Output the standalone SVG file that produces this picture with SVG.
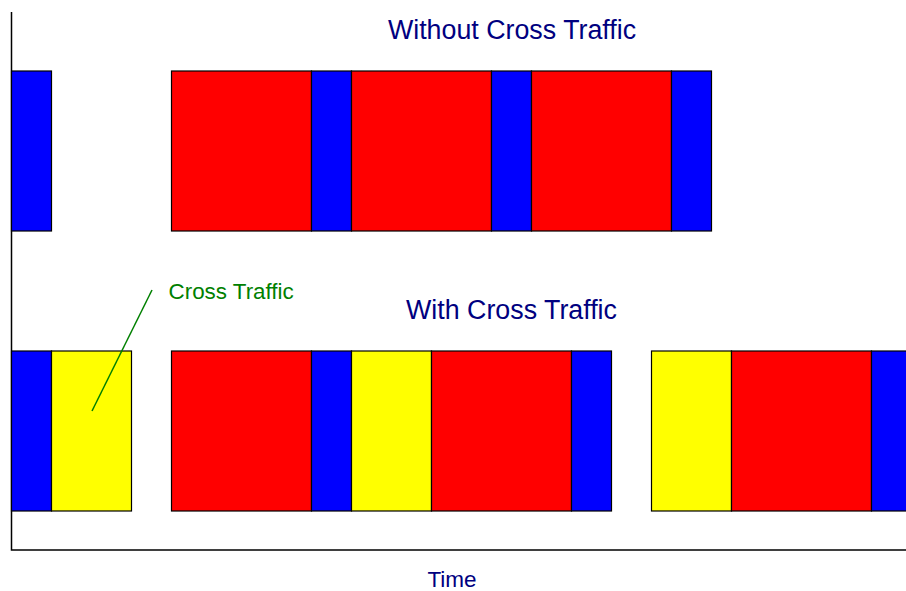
<svg xmlns="http://www.w3.org/2000/svg" width="906" height="591" viewBox="0 0 906 591">
<style>
rect{stroke:#000;stroke-width:1.2}
.b{fill:#0000ff}.r{fill:#ff0000}.y{fill:#ffff00}
.t{font-family:"Liberation Sans",Arial,sans-serif;fill:#000080}
</style>
<rect width="906" height="591" fill="#fff" style="stroke:none"/>
<g id="axes" fill="none" stroke="#000" stroke-width="1.5">
<polyline points="11.5,12 11.5,550 906,550"/>
</g>
<g id="row-without">
<rect class="b" x="11.5" y="71" width="40" height="160"/>
<rect class="r" x="171.5" y="71" width="140" height="160"/>
<rect class="b" x="311.5" y="71" width="40" height="160"/>
<rect class="r" x="351.5" y="71" width="140" height="160"/>
<rect class="b" x="491.5" y="71" width="40" height="160"/>
<rect class="r" x="531.5" y="71" width="140" height="160"/>
<rect class="b" x="671.5" y="71" width="40" height="160"/>
</g>
<g id="row-with">
<rect class="b" x="11.5" y="351" width="40" height="160"/>
<rect class="y" x="51.5" y="351" width="80" height="160"/>
<rect class="r" x="171.5" y="351" width="140" height="160"/>
<rect class="b" x="311.5" y="351" width="40" height="160"/>
<rect class="y" x="351.5" y="351" width="80" height="160"/>
<rect class="r" x="431.5" y="351" width="140" height="160"/>
<rect class="b" x="571.5" y="351" width="40" height="160"/>
<rect class="y" x="651.5" y="351" width="80" height="160"/>
<rect class="r" x="731.5" y="351" width="140" height="160"/>
<rect class="b" x="871.5" y="351" width="40" height="160"/>
</g>
<g id="connectors">
<line x1="152" y1="290" x2="92" y2="411" stroke="#008000" stroke-width="1.5"/>
</g>
<g id="labels">
<text class="t" x="512" y="39" font-size="26.8" text-anchor="middle">Without Cross Traffic</text>
<text class="t" x="511.5" y="319" font-size="26.8" text-anchor="middle">With Cross Traffic</text>
<text class="t" x="452" y="587" font-size="22.5" text-anchor="middle">Time</text>
<text x="168.5" y="299" font-size="22.4" font-family="Liberation Sans,Arial,sans-serif" fill="#008000">Cross Traffic</text>
</g>
</svg>
